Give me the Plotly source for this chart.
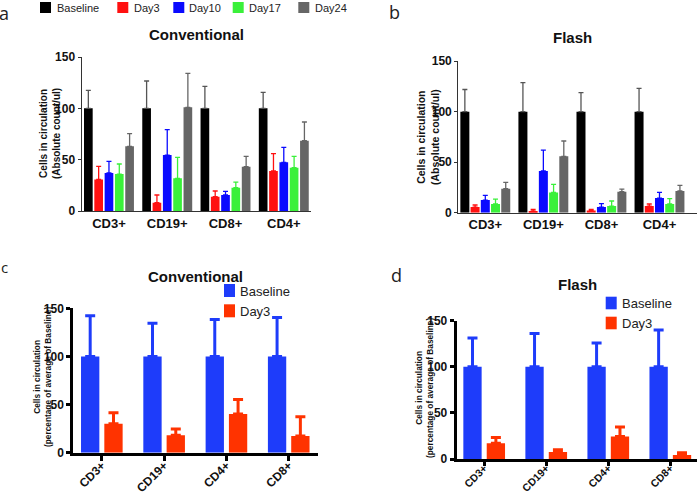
import plotly.graph_objects as go

W, H = 699, 494

# ---------------- data ----------------
cells_ab = ["CD3+", "CD19+", "CD8+", "CD4+"]
series_ab = ["Baseline", "Day3", "Day10", "Day17", "Day24"]

# Panel a: Conventional, absolute counts (mean, SD)
conv_baseline = [100, 100, 100, 100]
conv_baseline_sd = [17.5, 26.6, 21.4, 15.6]
conv_day3 = [30.8, 8.1, 14.0, 39.0]
conv_day3_sd = [12.7, 7.5, 5.5, 16.8]
conv_day10 = [37.0, 54.5, 15.6, 47.4]
conv_day10_sd = [11.4, 24.7, 3.6, 14.6]
conv_day17 = [36.0, 31.8, 22.7, 42.2]
conv_day17_sd = [9.8, 20.5, 5.5, 11.0]
conv_day24 = [63.0, 101.0, 43.2, 68.5]
conv_day24_sd = [12.3, 33.0, 10.0, 18.2]

# Panel b: Flash, absolute counts (mean, SD)
flash_baseline = [100, 100, 100, 100]
flash_baseline_sd = [22.0, 28.7, 18.8, 23.0]
flash_day3 = [5.6, 1.7, 2.3, 6.6]
flash_day3_sd = [2.0, 1.6, 1.0, 2.0]
flash_day10 = [12.5, 41.3, 5.6, 14.5]
flash_day10_sd = [4.7, 20.7, 3.3, 5.6]
flash_day17 = [8.6, 20.1, 6.6, 8.6]
flash_day17_sd = [4.9, 7.9, 5.0, 5.3]
flash_day24 = [23.8, 55.8, 20.8, 21.5]
flash_day24_sd = [6.2, 15.2, 2.6, 5.5]

# Panels c, d: percentage of average of baseline
cells_cd = ["CD3+", "CD19+", "CD4+", "CD8+"]
series_cd = ["Baseline", "Day3"]
conv_pct_baseline = [100, 100, 100, 100]
conv_pct_baseline_sd = [42.2, 34.5, 38.4, 40.4]
conv_pct_day3 = [30.1, 18.1, 40.4, 17.4]
conv_pct_day3_sd = [11.4, 6.5, 14.9, 19.9]
flash_pct_baseline = [100, 100, 100, 100]
flash_pct_baseline_sd = [31.2, 36.2, 25.8, 39.9]
flash_pct_day3 = [17.0, 7.6, 24.3, 4.3]
flash_pct_day3_sd = [6.2, 2.5, 10.5, 2.6]

y_ticks = [0, 50, 100, 150]

# ---------------- style ----------------
FONT = "Liberation Sans"
colors_ab = ["#000000", "#ff1010", "#0a0aff", "#3af03a", "#666666"]
err_colors_ab = ["#555555", "#ff1010", "#0a0aff", "#3af03a", "#666666"]
colors_cd = ["#1e3cfa", "#ff3300"]


def px(x):
    return x / W


def py(y):
    return 1 - y / H


fig = go.Figure()

panels_ab = [
    ("x", "y", [conv_baseline, conv_day3, conv_day10, conv_day17, conv_day24],
     [conv_baseline_sd, conv_day3_sd, conv_day10_sd, conv_day17_sd, conv_day24_sd], 0.177, 0.149),
    ("x2", "y2", [flash_baseline, flash_day3, flash_day10, flash_day17, flash_day24],
     [flash_baseline_sd, flash_day3_sd, flash_day10_sd, flash_day17_sd, flash_day24_sd], 0.176, 0.155),
]
for xa, ya, vals, sds, slot, bw in panels_ab:
    start = -(4 * slot + bw) / 2
    for i, name in enumerate(series_ab):
        fig.add_trace(go.Bar(
            x=cells_ab, y=vals[i], name=name, xaxis=xa, yaxis=ya,
            marker=dict(color=colors_ab[i], line=dict(width=0)),
            offset=start + i * slot, width=bw, showlegend=False,
            error_y=dict(type="data", array=sds[i], arrayminus=[0] * 4, symmetric=False,
                         color=err_colors_ab[i], thickness=1.3, width=2.5),
        ))

panels_cd = [
    ("x3", "y3", [conv_pct_baseline, conv_pct_day3], [conv_pct_baseline_sd, conv_pct_day3_sd], 0.374, 0.294),
    ("x4", "y4", [flash_pct_baseline, flash_pct_day3], [flash_pct_baseline_sd, flash_pct_day3_sd], 0.377, 0.295),
]
for xa, ya, vals, sds, slot, bw in panels_cd:
    start = -(slot + bw) / 2
    for i, name in enumerate(series_cd):
        fig.add_trace(go.Bar(
            x=cells_cd, y=vals[i], name=name, xaxis=xa, yaxis=ya,
            marker=dict(color=colors_cd[i], line=dict(width=0)),
            offset=start + i * slot, width=bw, showlegend=False,
            error_y=dict(type="data", array=sds[i], arrayminus=[0] * 4, symmetric=False,
                         color=colors_cd[i], thickness=3, width=5),
        ))

ytickfont = dict(family=FONT, size=12, color="#111111", weight="bold")
xtickfont_ab = dict(family=FONT, size=13, color="#111111", weight="bold")


def xaxis(domain, rng, anchor, thick, standoff=0, fsize=12, ticklen=5):
    d = dict(domain=domain, range=rng, anchor=anchor, showgrid=False, zeroline=False,
             showline=True, linecolor="#000000" if thick else "#333333",
             linewidth=3 if thick else 1.3, fixedrange=True, automargin=False)
    if thick:
        d.update(ticks="outside", ticklen=ticklen, tickwidth=3, tickcolor="#000000", tickangle=-45,
                 tickfont=dict(family=FONT, size=fsize, color="#111111", weight="bold"),
                 ticklabelstandoff=standoff)
    else:
        d.update(ticks="", tickangle=0, tickfont=xtickfont_ab)
    return d


def yaxis(domain, anchor, thick):
    return dict(domain=domain, range=[0, 150], anchor=anchor, tickvals=y_ticks,
                showgrid=False, zeroline=False, showline=True, automargin=False,
                linecolor="#000000" if thick else "#333333", linewidth=3 if thick else 1.3,
                ticks="outside", ticklen=4 if thick else 3, tickwidth=3 if thick else 1.3,
                tickcolor="#000000" if thick else "#333333", tickfont=ytickfont, fixedrange=True)


fig.update_layout(
    width=W, height=H, margin=dict(l=0, r=0, t=0, b=0), autosize=False,
    paper_bgcolor="white", plot_bgcolor="white", barmode="overlay",
    font=dict(family=FONT, color="#111111"),
    xaxis=xaxis([px(81.7), px(311)], [-0.468, 3.467], "y", False),
    yaxis=yaxis([py(211), py(57)], "x", False),
    xaxis2=xaxis([px(458.3), px(697)], [-0.465, 3.646], "y2", False),
    yaxis2=yaxis([py(212.7), py(61.2)], "x2", False),
    xaxis3=xaxis([px(73.3), px(318)], [-0.458, 3.47], "y3", True, standoff=-7, fsize=12),
    yaxis3=yaxis([py(452.8), py(308.3)], "x3", True),
    xaxis4=xaxis([px(456.7), px(697)], [-0.443, 3.43], "y4", True, standoff=-8, fsize=10.5, ticklen=4),
    yaxis4=yaxis([py(459), py(320.7)], "x4", True),
)

ann = []
shapes = []


def text(x, y, s, size, bold=False, xanchor="center", angle=0, family=FONT, color="#111111"):
    ann.append(dict(x=px(x), y=py(y), xref="paper", yref="paper", text=s, showarrow=False,
                    xanchor=xanchor, yanchor="middle", textangle=angle,
                    font=dict(family=family, size=size, color=color,
                              weight="bold" if bold else "normal")))


def square(x0, x1, y0, y1, color):
    shapes.append(dict(type="rect", xref="paper", yref="paper", x0=px(x0), x1=px(x1),
                       y0=py(y1), y1=py(y0), fillcolor=color, line=dict(width=0)))


# panel letters
text(4, 13, "a", 18, family="Open Sans", color="#222222")
text(394, 12, "b", 18, family="Open Sans", color="#222222")
text(4, 267, "c", 15, family="Open Sans", color="#222222")
text(396, 275, "d", 18, family="Open Sans", color="#222222")

# panel titles
text(196, 35, "Conventional", 15, bold=True)
text(572.5, 38, "Flash", 15, bold=True)
text(195.5, 276, "Conventional", 15, bold=True)
text(577.5, 284, "Flash", 15, bold=True)

# y-axis titles
text(50, 134, "Cells in circulation<br>(Absolute count/ul)", 10, bold=True, angle=-90)
text(428, 137, "Cells in circulation<br>(Absolute count/ul)", 10.5, bold=True, angle=-90)
text(42, 377, "Cells in circulation<br>(percentage of average of Baseline)", 8.3, bold=True, angle=-90)
text(424, 388, "Cells in circulation<br>(percentage of average of Baseline)", 8.3, bold=True, angle=-90)

# top legend (panels a, b)
leg_sq_x = [40, 117.3, 173.3, 232.7, 298.3]
leg_tx_x = [55, 131.7, 187.3, 246.7, 313.3]
for i, name in enumerate(series_ab):
    square(leg_sq_x[i], leg_sq_x[i] + 11, 2, 13, colors_ab[i])
    text(leg_tx_x[i], 7.5, name, 11, xanchor="left", color="#222222")

# legend panel c
for i, name in enumerate(series_cd):
    y0 = [284, 304.3][i]
    square(224, 235, y0, y0 + 13, colors_cd[i])
    text(238.3, y0 + 7, name, 13, xanchor="left", color="#222222")

# legend panel d
for i, name in enumerate(series_cd):
    y0 = [296.7, 316.7][i]
    square(605.7, 616.7, y0, y0 + 12.6, colors_cd[i])
    text(620, y0 + 6.6, name, 13, xanchor="left", color="#222222")

fig.update_layout(annotations=ann, shapes=shapes)

post = ("document.body.style.margin='0';document.body.style.padding='0';"
        "var d=document.getElementById('{plot_id}');"
        "d.style.position='absolute';d.style.left='0px';d.style.top='0px';")
fig.write_html("out.html", post_script=post, config={"displayModeBar": False, "responsive": False})
